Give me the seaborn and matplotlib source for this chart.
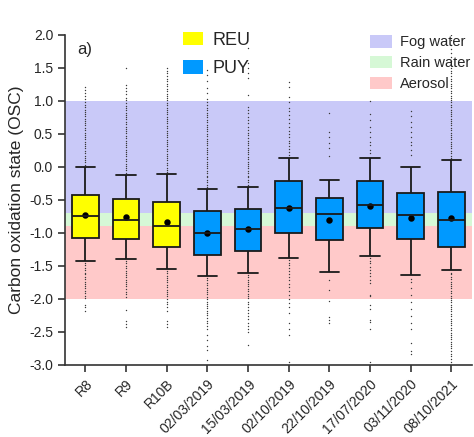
import numpy as np
import pandas as pd
import matplotlib
matplotlib.use("Agg")
import matplotlib.pyplot as plt
from matplotlib.patches import Patch
import seaborn as sns

names = ["R8", "R9", "R10B", "02/03/2019", "15/03/2019", "02/10/2019",
         "22/10/2019", "17/07/2020", "03/11/2020", "08/10/2021"]
site = ["REU", "REU", "REU", "PUY", "PUY", "PUY", "PUY", "PUY", "PUY", "PUY"]

whis_lo = [-1.42, -1.39, -1.54, -1.65, -1.60, -1.38, -1.59, -1.35, -1.64, -1.56]
q1 = [-1.08, -1.09, -1.21, -1.34, -1.28, -1.00, -1.10, -0.93, -1.09, -1.21]
med = [-0.75, -0.80, -0.89, -1.00, -0.94, -0.62, -0.72, -0.57, -0.73, -0.80]
q3 = [-0.43, -0.48, -0.53, -0.67, -0.63, -0.22, -0.47, -0.22, -0.40, -0.38]
whis_hi = [0.00, -0.12, -0.11, -0.34, -0.31, 0.14, -0.20, 0.14, 0.00, 0.10]
means = [-0.73, -0.76, -0.84, -1.00, -0.94, -0.62, -0.80, -0.59, -0.78, -0.77]

# outliers (one list per sample)
fl_R8 = [0.03, 0.07, 0.10, 0.14, 0.17, 0.21, 0.24, 0.28, 0.31, 0.35, 0.38, 0.42, 0.45, 0.49,
         0.52, 0.56, 0.59, 0.63, 0.66, 0.70, 0.73, 0.77, 0.80, 0.84, 0.87, 0.91, 0.94, 0.98,
         1.03, 1.08, 1.12, 1.17, 1.21,
         -1.46, -1.49, -1.53, -1.56, -1.60, -1.63, -1.67, -1.70, -1.74, -1.77, -1.81, -1.84,
         -1.88, -1.91, -1.95, -1.99, -2.09, -2.13, -2.18]
fl_R9 = [-0.09, -0.05, -0.02, 0.02, 0.05, 0.09, 0.12, 0.16, 0.19, 0.23, 0.26, 0.30, 0.33, 0.37,
         0.40, 0.44, 0.47, 0.51, 0.54, 0.58, 0.61, 0.65, 0.68, 0.72, 0.75, 0.79, 0.82, 0.86,
         0.89, 0.93, 0.97, 1.01, 1.05, 1.10, 1.15, 1.20, 1.24, 1.50,
         -1.43, -1.46, -1.50, -1.53, -1.57, -1.60, -1.64, -1.67, -1.71, -1.74, -1.78, -1.81,
         -1.85, -1.89, -1.93, -1.97, -2.17, -2.33, -2.38, -2.43]
fl_R10B = [-0.08, -0.04, -0.01, 0.03, 0.06, 0.10, 0.13, 0.17, 0.20, 0.24, 0.27, 0.31, 0.34,
           0.38, 0.41, 0.45, 0.48, 0.52, 0.55, 0.59, 0.62, 0.66, 0.69, 0.73, 0.76, 0.80, 0.83,
           0.87, 0.90, 0.94, 0.97, 1.01, 1.04, 1.08, 1.11, 1.15, 1.18, 1.22, 1.26, 1.30, 1.34,
           1.38, 1.42, 1.46, 1.50,
           -1.58, -1.61, -1.65, -1.68, -1.72, -1.75, -1.79, -1.82, -1.86, -1.89, -1.93, -1.96,
           -2.00, -2.04, -2.08, -2.13, -2.18, -2.34, -2.38, -2.42]
fl_0203 = [-0.30, -0.27, -0.23, -0.20, -0.16, -0.13, -0.09, -0.06, -0.02, 0.01, 0.05, 0.08,
           0.12, 0.15, 0.19, 0.22, 0.26, 0.29, 0.33, 0.36, 0.40, 0.43, 0.47, 0.50, 0.54, 0.57,
           0.61, 0.64, 0.68, 0.71, 0.75, 0.78, 0.82, 0.86, 0.90, 0.94, 0.98, 1.03, 1.12, 1.20,
           1.30, 1.40, 1.47,
           -1.69, -1.72, -1.76, -1.79, -1.83, -1.86, -1.90, -1.93, -1.97, -2.00, -2.04, -2.07,
           -2.11, -2.14, -2.18, -2.21, -2.25, -2.29, -2.33, -2.37, -2.41, -2.46, -2.55, -2.62,
           -2.72, -2.77, -2.92]
fl_1503 = [-0.27, -0.23, -0.20, -0.16, -0.13, -0.09, -0.06, -0.02, 0.01, 0.05, 0.08, 0.12,
           0.15, 0.19, 0.22, 0.26, 0.29, 0.33, 0.36, 0.40, 0.44, 0.48, 0.52, 0.56, 0.61, 0.66,
           0.71, 0.76, 0.81, 0.86, 0.91, 1.09, 1.35, 1.42, 1.50, 1.57, 1.80,
           -1.64, -1.67, -1.71, -1.74, -1.78, -1.81, -1.85, -1.88, -1.92, -1.95, -1.99, -2.04,
           -2.08, -2.13, -2.17, -2.22, -2.26, -2.31, -2.36, -2.41, -2.46, -2.50, -2.70]
fl_0210 = [0.18, 0.22, 0.27, 0.31, 0.36, 0.40, 0.45, 0.50, 0.55, 0.60, 0.66, 0.72, 0.78, 0.85,
           0.89, 0.98, 1.06, 1.21, 1.29,
           -1.41, -1.45, -1.49, -1.53, -1.58, -1.62, -1.67, -1.72, -1.77, -1.82, -1.88, -1.94,
           -2.00, -2.06, -2.12, -2.21, -2.36, -2.45, -2.55, -2.95]
fl_2210 = [0.16, 0.29, 0.36, 0.46, 0.53, 0.82,
           -1.71, -1.86, -2.03, -2.27, -2.32, -2.36]
fl_1707 = [0.21, 0.26, 0.33, 0.38, 0.46, 0.53, 0.61, 0.71, 0.80, 1.00,
           -1.38, -1.42, -1.46, -1.51, -1.56, -1.61, -1.66, -1.71, -1.76, -1.94, -1.96, -2.09,
           -2.15, -2.32, -2.35, -2.45, -2.95]
fl_0311 = [0.18, 0.26, 0.33, 0.38, 0.46, 0.53, 0.61, 0.68, 0.77, 0.85,
           -1.70, -1.75, -1.84, -1.94, -2.04, -2.16, -2.26, -2.37, -2.46, -2.67, -2.79, -2.84]
fl_0810 = [0.14, 0.17, 0.21, 0.24, 0.28, 0.31, 0.35, 0.38, 0.42, 0.45, 0.49, 0.52, 0.56, 0.59,
           0.63, 0.66, 0.70, 0.73, 0.77, 0.80, 0.84, 0.87, 0.91, 0.94, 0.98, 1.01, 1.05, 1.08,
           1.12, 1.15, 1.19, 1.22, 1.26, 1.30, 1.34, 1.38, 1.42, 1.46, 1.50, 1.55, 1.60, 1.66,
           1.72, 1.78, 1.85, 1.93, 2.00,
           -1.60, -1.63, -1.67, -1.70, -1.74, -1.77, -1.81, -1.84, -1.88, -1.91, -1.95, -1.98,
           -2.02, -2.05, -2.09, -2.12, -2.16, -2.19, -2.23, -2.26, -2.30, -2.33, -2.37, -2.40,
           -2.44, -2.47, -2.51, -2.54, -2.58, -2.61, -2.65, -2.68, -2.72, -2.75, -2.79, -2.83,
           -2.87, -2.91, -2.95]
fliers = [fl_R8, fl_R9, fl_R10B, fl_0203, fl_1503, fl_0210, fl_2210, fl_1707, fl_0311, fl_0810]

# (label, low, high) for the background ranges
bands = [("Fog water", -0.7, 1.0), ("Rain water", -0.9, -0.7), ("Aerosol", -2.0, -0.9)]
band_colors = ["#C9C9F8", "#D6F8D6", "#FFC9C9"]
site_colors = {"REU": "#FFFF00", "PUY": "#0099FF"}

sns.set_style("ticks")
plt.rcParams["font.family"] = ["Liberation Sans", "DejaVu Sans"]
plt.rcParams["axes.unicode_minus"] = False

# five numbers per box -> with whis=(0, 100) seaborn gives back exactly these quartiles/whiskers
rows = []
for i, n in enumerate(names):
    for v in [whis_lo[i], q1[i], med[i], q3[i], whis_hi[i]]:
        rows.append({"sample": n, "site": site[i], "osc": v})
box_df = pd.DataFrame(rows)

fl_rows = []
for i, n in enumerate(names):
    for v in fliers[i]:
        fl_rows.append({"sample": n, "osc": v})
fl_df = pd.DataFrame(fl_rows)

fig = plt.figure(figsize=(4.74, 4.37), dpi=100)
ax = fig.add_axes([0.137, 0.165, 0.858, 0.755])

for (lab, lo, hi), c in zip(bands, band_colors):
    ax.axhspan(lo, hi, color=c, lw=0, zorder=0)

sns.stripplot(data=fl_df, x="sample", y="osc", order=names, jitter=False, size=1.0,
              color="#3a3a3a", linewidth=0, ax=ax, zorder=1)
sns.boxplot(data=box_df, x="sample", y="osc", hue="site", order=names, palette=site_colors,
            saturation=1, whis=(0, 100), showfliers=False, width=0.66, dodge=False,
            legend=False, linecolor="#1a1a1a", linewidth=1.3, ax=ax, capwidths=0.48)
sns.pointplot(x=names, y=means, order=names, color="black", linestyle="none", markers="o",
              markersize=2.6, errorbar=None, ax=ax)

ax.set_xlim(-0.5, 9.5)
ax.set_ylim(-3.0, 2.0)
ax.set_yticks(np.arange(-3.0, 2.01, 0.5))
ax.set_yticklabels([f"{t:.1f}" for t in np.arange(-3.0, 2.01, 0.5)], fontsize=10)
ax.set_xticks(range(len(names)))
ax.set_xticklabels(names, rotation=45, ha="right", rotation_mode="anchor", fontsize=10)
ax.set_xlabel("")
ax.set_ylabel("Carbon oxidation state (OSC)", fontsize=12.5, labelpad=4)
ax.tick_params(axis="both", length=5, width=1.2, color="#333333")
sns.despine(ax=ax)
for s in ["left", "bottom"]:
    ax.spines[s].set_linewidth(1.2)
    ax.spines[s].set_color("#333333")

ax.text(0.03, 0.955, "a)", transform=ax.transAxes, fontsize=12, va="center", ha="left")

h1 = [Patch(facecolor=site_colors[k], edgecolor="none") for k in ["REU", "PUY"]]
leg1 = ax.legend(h1, ["REU", "PUY"], loc="upper left", bbox_to_anchor=(0.29, 1.01),
                 frameon=False, fontsize=13, handlelength=1.1, handleheight=0.75,
                 handletextpad=0.55, labelspacing=0.65, borderpad=0, borderaxespad=0)
ax.add_artist(leg1)
h2 = [Patch(facecolor=c, edgecolor="none") for c in band_colors]
ax.legend(h2, [b[0] for b in bands], loc="upper left", bbox_to_anchor=(0.75, 1.0),
          frameon=False, fontsize=10.5, handlelength=1.5, handleheight=0.95,
          handletextpad=0.55, labelspacing=0.45, borderpad=0, borderaxespad=0)

fig.savefig("out.png", dpi=100)
